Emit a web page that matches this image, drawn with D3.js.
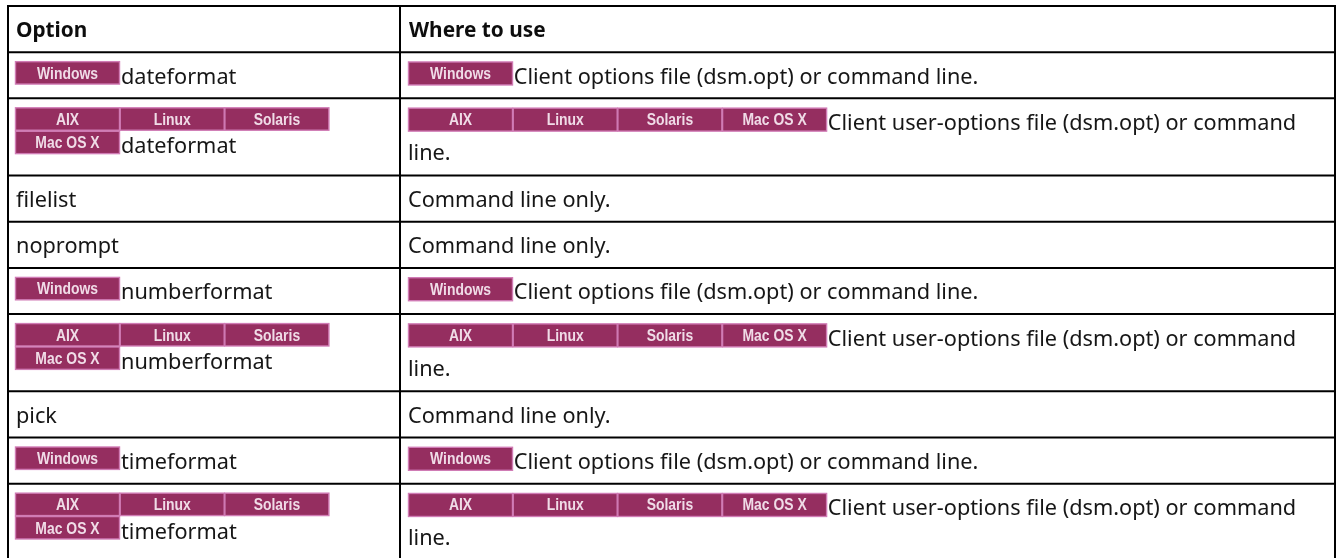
<!DOCTYPE html>
<html>
<head>
<meta charset="utf-8">
<script src="https://cdn.jsdelivr.net/npm/d3@7"></script>
<style>
html, body { margin: 0; padding: 0; background: #fff; overflow: hidden; }
svg { display: block; }
</style>
</head>
<body>
<script>
var headers = ['Option', 'Where to use'];
var optionNames = ['dateformat', 'dateformat', 'filelist', 'noprompt', 'numberformat', 'numberformat', 'pick', 'timeformat', 'timeformat'];
var rowPlatforms = ['win', 'unix', 'none', 'none', 'win', 'unix', 'none', 'win', 'unix'];
var winNames = ['Windows'];
var unixNames = ['AIX', 'Linux', 'Solaris', 'Mac OS X'];
var winUse = ['Client options file (dsm.opt) or command line.'];
var unixUse = ['Client user-options file (dsm.opt) or command', 'line.'];
var cmdUse = ['Command line only.'];

var w = 1338, h = 558;
var font = '"Noto Sans", sans-serif';
var textSize = 21.7;

function platformsFor(p) {
	if (p === 'win') { return winNames; }
	if (p === 'unix') { return unixNames; }
	return [];
}

function useFor(p) {
	if (p === 'win') { return winUse; }
	if (p === 'unix') { return unixUse; }
	return cmdUse;
}

var rowHeights = [46].concat(rowPlatforms.map(function(p) {
	return p === 'unix' ? 77 : 46;
}));
var rowTops = [0].concat(Array.from(d3.cumsum(rowHeights)));

var y = d3.scaleLinear().domain([0, d3.sum(rowHeights)]).range([6, 6 + d3.sum(rowHeights) * 1.0035]);
var x = d3.scaleOrdinal().domain(['left', 'use', 'right']).range([8, 400, 1335]);
var badgeX = d3.scaleLinear().domain([0, 1]).range([0, 104.7]);

var svg = d3.select('body').append('svg')
	.attr('width', w)
	.attr('height', h);

var defs = svg.append('defs');
defs.append('filter').attr('id', 'soft')
	.append('feGaussianBlur').attr('stdDeviation', 0.45);
defs.append('filter').attr('id', 'softer')
	.append('feGaussianBlur').attr('stdDeviation', 0.25);

var grid = svg.append('g').attr('stroke', '#000').attr('stroke-width', 2);

grid.selectAll('line.row')
	.data(rowTops)
	.enter()
	.append('line')
	.attr('class', 'row')
	.attr('x1', x('left') - 1)
	.attr('x2', x('right') + 1)
	.attr('y1', function(d) { return y(d); })
	.attr('y2', function(d) { return y(d); });

grid.selectAll('line.col')
	.data(x.domain())
	.enter()
	.append('line')
	.attr('class', 'col')
	.attr('x1', function(d) { return x(d); })
	.attr('x2', function(d) { return x(d); })
	.attr('y1', y(0))
	.attr('y2', h);

svg.selectAll('text.head')
	.data(headers)
	.enter()
	.append('text')
	.attr('class', 'head')
	.attr('x', function(d, i) { return i === 0 ? x('left') + 8 : x('use') + 9; })
	.attr('y', y(0) + 31)
	.attr('font-family', font)
	.attr('font-size', 20.8)
	.attr('font-weight', 700)
	.attr('fill', '#111')
	.attr('filter', 'url(#softer)')
	.text(function(d) { return d; });

function drawBadges(g, names, perLine, left, top, boxH) {
	var b = g.selectAll('g')
		.data(names)
		.enter()
		.append('g')
		.attr('filter', 'url(#soft)')
		.attr('transform', function(d, i) {
			var col = i % perLine;
			var line = Math.floor(i / perLine);
			return 'translate(' + (left + badgeX(col)) + ',' + (top + line * 23.4) + ')';
		});
	b.append('rect')
		.attr('x', 0.5)
		.attr('y', 0.5)
		.attr('width', 104)
		.attr('height', boxH)
		.attr('fill', '#952d60')
		.attr('stroke', '#d07bb5')
		.attr('stroke-width', 1.4);
	b.append('text')
		.attr('transform', 'translate(52.5,17.5) scale(0.82,1)')
		.attr('text-anchor', 'middle')
		.attr('font-family', '"Liberation Sans", sans-serif')
		.attr('font-size', 17)
		.attr('font-weight', 700)
		.attr('fill', '#f0dce7')
		.text(function(d) { return d; });
}

var rows = svg.selectAll('g.option')
	.data(optionNames)
	.enter()
	.append('g')
	.attr('class', 'option')
	.attr('transform', function(d, i) { return 'translate(0,' + y(rowTops[i + 1]) + ')'; });

rows.each(function(name, i) {
	var g = d3.select(this);
	var p = rowPlatforms[i];
	var names = platformsFor(p);
	var badgeEnd = names.length ? badgeX(names.length === 1 ? 1 : 4) : 0;

	// left column
	drawBadges(g.append('g'), names, 3, 15, 9, 22.4);
	g.append('text')
		.attr('x', p === 'none' ? 16 : 121)
		.attr('y', p === 'unix' ? 55 : 31.5)
		.attr('font-family', font)
		.attr('font-size', textSize)
		.attr('fill', '#161616')
		.attr('filter', 'url(#softer)')
		.text(name);

	// right column
	drawBadges(g.append('g'), names, 4, 408, 9.3, 23);
	g.selectAll('text.use')
		.data(useFor(p))
		.enter()
		.append('text')
		.attr('class', 'use')
		.attr('x', function(d, k) { return k === 0 && p !== 'none' ? 408 + badgeEnd + 1 : 408; })
		.attr('y', function(d, k) { return 31.5 + k * 30; })
		.attr('font-family', font)
		.attr('font-size', textSize)
		.attr('fill', '#161616')
		.attr('filter', 'url(#softer)')
		.text(function(d) { return d; });
});
</script>
</body>
</html>
